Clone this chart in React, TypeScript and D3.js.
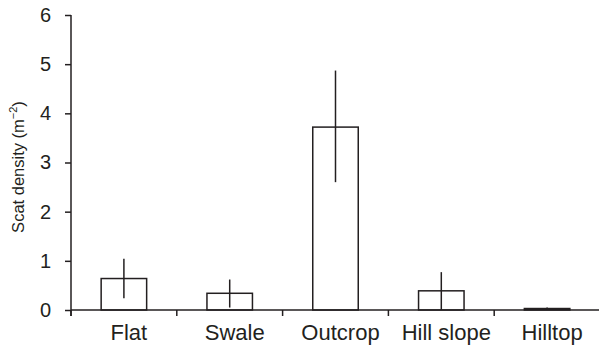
import React, { useRef, useEffect } from 'react';
import * as d3 from 'd3';

const categories = ['Flat', 'Swale', 'Outcrop', 'Hill slope', 'Hilltop'];
const means = [0.64, 0.34, 3.72, 0.39, 0.03];
const errLow = [0.24, 0.05, 2.6, 0.0, 0.0];
const errHigh = [1.04, 0.62, 4.87, 0.77, 0.05];
const yTicks = [0, 1, 2, 3, 4, 5, 6];

const W = 599;
const H = 350;
const margin = { top: 15, right: -1, bottom: 40, left: 71 };
const ink = '#231f20';
const font = 'Liberation Sans, Arial, sans-serif';

const App = () => {
  const ref = useRef<SVGSVGElement>(null);

  useEffect(() => {
    const svg = d3.select(ref.current);
    svg.selectAll('*').remove();

    const x = d3.scaleBand().domain(categories)
      .range([margin.left, W - margin.right]).paddingInner(0).paddingOuter(0);
    const y = d3.scaleLinear().domain([0, 6]).range([H - margin.bottom, margin.top]);

    const bw = x.bandwidth() * 0.43;
    const g = svg.append('g');

    // bars
    g.selectAll('rect.bar')
      .data(categories)
      .join('rect')
      .attr('class', 'bar')
      .attr('x', (d) => x(d)! + (x.bandwidth() - bw) / 2)
      .attr('y', (d, i) => y(means[i]))
      .attr('width', bw)
      .attr('height', (d, i) => y(0) - y(means[i]))
      .attr('fill', 'none')
      .attr('stroke', ink)
      .attr('stroke-width', 1.5);

    // error bars
    g.selectAll('line.err')
      .data(categories)
      .join('line')
      .attr('class', 'err')
      .attr('x1', (d) => x(d)! + x.bandwidth() / 2)
      .attr('x2', (d) => x(d)! + x.bandwidth() / 2)
      .attr('y1', (d, i) => y(errLow[i]))
      .attr('y2', (d, i) => y(errHigh[i]))
      .attr('stroke', ink)
      .attr('stroke-width', 1.5);

    // x axis
    const xAxis = g.append('g').attr('transform', `translate(0,${y(0)})`);
    xAxis.append('line')
      .attr('x1', margin.left).attr('x2', W)
      .attr('stroke', ink).attr('stroke-width', 1.5);
    const xTickPos = categories.map((c) => x(c)!).concat([x(categories[4])! + x.bandwidth()]);
    xAxis.selectAll('line.tick')
      .data(xTickPos)
      .join('line')
      .attr('class', 'tick')
      .attr('x1', (d) => d).attr('x2', (d) => d)
      .attr('y1', 0).attr('y2', 6)
      .attr('stroke', ink).attr('stroke-width', 1.5);
    xAxis.selectAll('text')
      .data(categories)
      .join('text')
      .attr('x', (d) => x(d)! + x.bandwidth() / 2 + 5)
      .attr('y', 29.5)
      .attr('text-anchor', 'middle')
      .attr('font-family', font)
      .attr('font-size', 22)
      .attr('fill', ink)
      .text((d) => d);

    // y axis
    const yAxis = g.append('g')
      .attr('transform', `translate(${margin.left},0)`)
      .call(d3.axisLeft(y).tickValues(yTicks).tickSize(6).tickPadding(14).tickFormat(d3.format('d')));
    yAxis.select('.domain').remove();
    yAxis.append('line')
      .attr('y1', y(6)).attr('y2', y(0) + 6)
      .attr('stroke', ink).attr('stroke-width', 1.5);
    yAxis.selectAll('.tick line').attr('stroke', ink).attr('stroke-width', 1.5);
    yAxis.selectAll('.tick text')
      .attr('font-family', font)
      .attr('font-size', 20)
      .attr('fill', ink);

    // y label
    const label = svg.append('text')
      .attr('transform', `translate(24,167) rotate(-90)`)
      .attr('text-anchor', 'middle')
      .attr('font-family', font)
      .attr('font-size', 16.5)
      .attr('fill', ink);
    label.append('tspan').text('Scat density (m');
    label.append('tspan').attr('font-size', 11).attr('dy', -7).text('\u22122');
    label.append('tspan').attr('dy', 7).text(')');
  }, []);

  return (
    <div style={{ position: 'absolute', left: 0, top: 0 }}>
      <svg ref={ref} width={W} height={H} style={{ display: 'block' }} />
    </div>
  );
};

export default App;
